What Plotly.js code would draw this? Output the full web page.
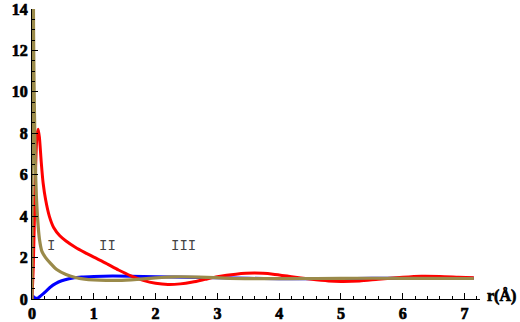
<!DOCTYPE html>
<html>
<head>
<meta charset="utf-8">
<script src="https://cdn.plot.ly/plotly-3.0.1.min.js"></script>
<style>
html,body{margin:0;padding:0;background:#fff;}
#chart{width:520px;height:322px;}
#chart .xtick text, #chart .ytick text, #chart .bold-label text{stroke:#000;stroke-width:0.7px;}
</style>
</head>
<body>
<div id="chart"></div>
<script>
// Blue curve
const blueX = [0, 0.02, 0.05, 0.09, 0.14, 0.22, 0.3, 0.38, 0.48, 0.6, 0.8, 1.0, 1.3, 1.6, 2.0, 2.5, 3.0, 3.5, 4.0, 4.5, 5.0, 5.5, 6.0, 6.5, 7.15];
const blueY = [0, 0.12, 0.05, 0.04, 0.15, 0.36, 0.58, 0.74, 0.88, 0.98, 1.06, 1.09, 1.11, 1.1, 1.08, 1.05, 1.02, 1.0, 0.98, 0.98, 0.99, 1.0, 1.0, 1.0, 1.0];
// Red curve
const redX = [0, 0.02, 0.04, 0.06, 0.08, 0.1, 0.12, 0.15, 0.18, 0.22, 0.28, 0.35, 0.45, 0.55, 0.7, 0.85, 1.0, 1.2, 1.4, 1.6, 1.8, 2.0, 2.2, 2.4, 2.6, 2.8, 3.0, 3.3, 3.6, 3.9, 4.2, 4.5, 4.8, 5.0, 5.3, 5.6, 6.0, 6.3, 6.6, 6.9, 7.15];
const redY = [0, 1.5, 4.0, 6.5, 7.9, 8.2, 7.8, 6.6, 5.6, 4.8, 4.0, 3.45, 3.05, 2.8, 2.5, 2.25, 2.02, 1.72, 1.4, 1.12, 0.9, 0.76, 0.7, 0.73, 0.82, 0.95, 1.08, 1.2, 1.25, 1.2, 1.08, 0.96, 0.87, 0.85, 0.87, 0.95, 1.05, 1.1, 1.09, 1.05, 1.02];
// Olive curve
const oliveX = [0, 0.004, 0.015, 0.025, 0.035, 0.045, 0.055, 0.07, 0.09, 0.12, 0.16, 0.22, 0.3, 0.4, 0.55, 0.7, 0.85, 1.0, 1.2, 1.4, 1.7, 2.0, 2.3, 2.7, 3.2, 3.7, 4.2, 5.0, 6.0, 7.15];
const oliveY = [0, 40, 20, 13, 10, 8, 6.4, 5.0, 3.9, 2.9, 2.3, 2.0, 1.72, 1.42, 1.18, 1.04, 0.96, 0.92, 0.9, 0.9, 0.95, 1.02, 1.07, 1.06, 1.0, 0.98, 0.98, 1.0, 1.0, 0.99];

const xTicks = [0, 1, 2, 3, 4, 5, 6, 7];
const yTicks = [0, 2, 4, 6, 8, 10, 12, 14];
const regionLabels = ["I", "II", "III"];
const regionX = [0.3, 1.22, 2.45];
const regionY = [2.55, 2.55, 2.55];

const tickFont = {family: 'Liberation Serif', size: 16, color: '#000', weight: 'bold'};

const traces = [
  {x: blueX, y: blueY, mode: 'lines', line: {color: '#0000ff', width: 3, shape: 'spline', smoothing: 0.6}, hoverinfo: 'skip'},
  {x: redX, y: redY, mode: 'lines', line: {color: '#ff0000', width: 3, shape: 'spline', smoothing: 0.6}, hoverinfo: 'skip'},
  {x: oliveX, y: oliveY, mode: 'lines', line: {color: '#9a8a4a', width: 3.2, shape: 'spline', smoothing: 0.5}, hoverinfo: 'skip'}
];

const annotations = regionLabels.map((t, i) => ({
  x: regionX[i], y: regionY[i], xref: 'x', yref: 'y', text: t, showarrow: false,
  font: {family: 'Liberation Mono', size: 14, color: '#444'}
}));
annotations.push({
  x: 1.085, y: 0.01, xref: 'paper', yref: 'paper', xanchor: 'right', yanchor: 'middle',
  text: 'r(Å)', showarrow: false,
  font: {family: 'Liberation Serif', size: 16, color: '#000', weight: 'bold'}
});

const layout = {
  width: 520, height: 322,
  margin: {l: 32, r: 40, t: 9, b: 23},
  paper_bgcolor: '#fff', plot_bgcolor: '#fff',
  showlegend: false,
  xaxis: {
    range: [0, 7.25], tickvals: xTicks, ticktext: xTicks.map(String),
    showgrid: false, zeroline: false, showline: true, linecolor: '#000', linewidth: 1,
    ticks: 'inside', ticklen: 6, tickcolor: '#000', tickwidth: 1,
    tickfont: tickFont,
    minor: {dtick: 0.2, tick0: 0, ticks: 'inside', ticklen: 3, tickcolor: '#000', showgrid: false},
    fixedrange: true
  },
  yaxis: {
    range: [0, 14], tickvals: yTicks, ticktext: yTicks.map(String),
    showgrid: false, zeroline: false, showline: true, linecolor: '#000', linewidth: 1,
    ticks: 'inside', ticklen: 6, tickcolor: '#000', tickwidth: 1,
    tickfont: tickFont,
    minor: {dtick: 0.5, tick0: 0, ticks: 'inside', ticklen: 3, tickcolor: '#000', showgrid: false},
    fixedrange: true
  },
  annotations: annotations
};

Plotly.newPlot('chart', traces, layout, {displayModeBar: false, staticPlot: true}).then(gd => {
  const anns = gd.querySelectorAll('.annotation');
  if (anns.length) anns[anns.length - 1].classList.add('bold-label');
});
</script>
</body>
</html>
